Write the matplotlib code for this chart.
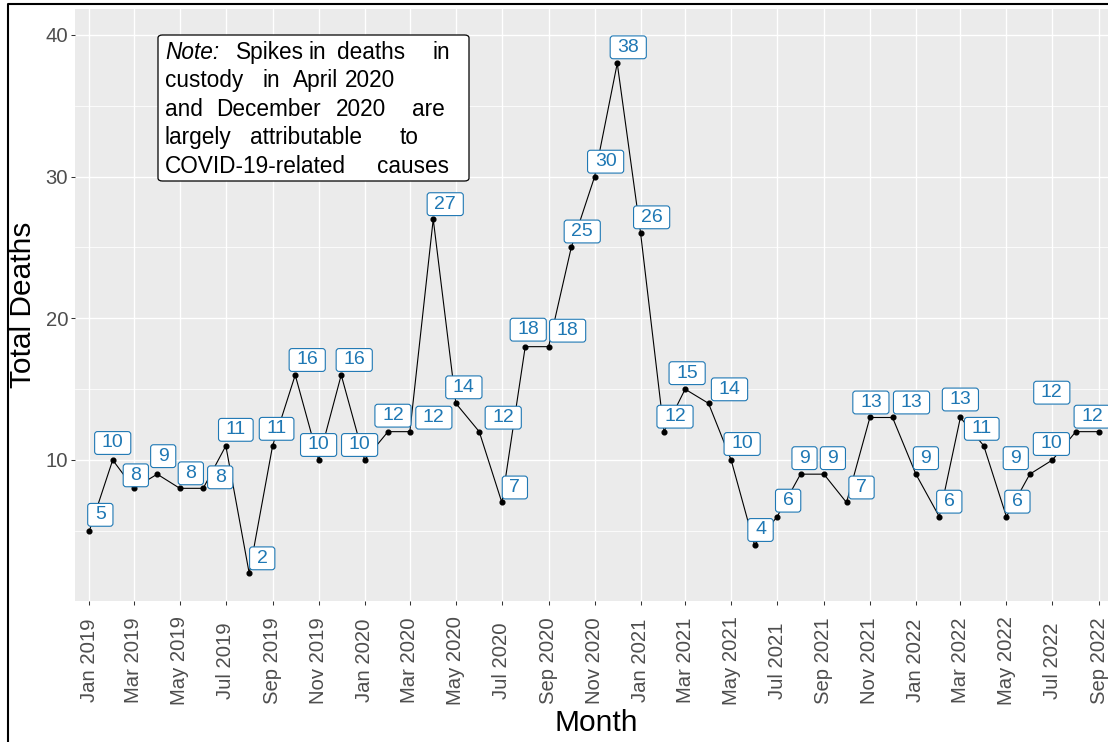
import matplotlib
matplotlib.use('Agg')
import matplotlib.pyplot as plt
import matplotlib.dates as mdates
from matplotlib.patches import FancyBboxPatch, BoxStyle
from matplotlib.lines import Line2D
import pandas as pd

plt.rcParams['font.family'] = ['Liberation Sans', 'DejaVu Sans']

# monthly deaths in custody, Jan 2019 - Sep 2022
months = pd.date_range('2019-01-01', periods=45, freq='MS')
deaths = [5, 10, 8, 9, 8, 8, 11, 2, 11, 16, 10, 16,
          10, 12, 12, 27, 14, 12, 7, 18, 18, 25, 30, 38,
          26, 12, 15, 14, 10, 4, 6, 9, 9, 7, 13, 13,
          9, 6, 13, 11, 6, 9, 10, 12, 12]

# label nudges (pixels, right / up), mimicking the repelled labels
label_offsets = [(11, 16), (0, 17), (2, 13), (6, 18), (11, 15), (17, 11), (10, 16), (13, 15),
                 (4, 17), (12, 15), (0, 15), (13, 15),
                 (-5, 15), (5, 16), (24, 14), (12, 15), (8, 16), (24, 14), (13, 15), (3, 17),
                 (19, 16), (11, 16), (11, 15), (11, 16),
                 (11, 16), (11, 15), (2, 16), (21, 14), (11, 16), (6, 15), (11, 16), (4, 16),
                 (9, 16), (15, 15), (1, 15), (19, 15),
                 (10, 16), (10, 15), (0, 18), (-2, 17), (11, 15), (-14, 16), (-1, 16),
                 (-24, 39), (-7, 15)]

note_lines = [
    [('Note:', 165, 'italic'), ('Spikes', 236, 'normal'), ('in', 309, 'normal'),
     ('deaths', 337, 'normal'), ('in', 433, 'normal')],
    [('custody', 165, 'normal'), ('in', 263, 'normal'), ('April', 293, 'normal'),
     ('2020', 345, 'normal')],
    [('and', 165, 'normal'), ('December', 216, 'normal'), ('2020', 336, 'normal'),
     ('are', 412, 'normal')],
    [('largely', 165, 'normal'), ('attributable', 250, 'normal'), ('to', 400, 'normal')],
    [('COVID-19-related', 165, 'normal'), ('causes', 377, 'normal')],
]

W, H = 1108, 742
BLUE = '#1F78B4'


def fx(x):
    return x / W


def fy(y):
    return 1 - y / H


class WideRound(BoxStyle.Round):
    # round box with extra room left and right, like geom_label
    def __call__(self, x0, y0, width, height, mutation_size):
        ex = 0.22 * mutation_size
        return super().__call__(x0 - ex, y0, width + 2 * ex, height, mutation_size)


fig = plt.figure(figsize=(W / 100, H / 100), dpi=100)
ax = fig.add_axes([fx(75), fy(601), (1115 - 75) / W, (601 - 9) / H])
ax.set_facecolor('#EBEBEB')
for s in ax.spines.values():
    s.set_visible(False)

ax.plot(months, deaths, color='black', lw=0.8, marker='o', ms=3.4, zorder=3)

for d, v, (dx, dy) in zip(months, deaths, label_offsets):
    ax.annotate(str(v), (d, v), xytext=(dx, dy), textcoords='offset pixels',
                ha='center', va='center', fontsize=14, color=BLUE, zorder=5,
                bbox=dict(boxstyle=WideRound(pad=0.15, rounding_size=0.15),
                          fc='white', ec=BLUE, lw=0.8))

ax.set_xlim(months[0] - pd.Timedelta(days=19), months[-1] + pd.Timedelta(days=21))
ax.set_ylim(0.047, 41.835)

ax.set_xticks(months[::2])
ax.xaxis.set_major_formatter(mdates.DateFormatter('%b %Y'))
ax.set_yticks([10, 20, 30, 40])
ax.set_yticks([5, 15, 25, 35], minor=True)

ax.grid(which='major', color='white', lw=1.0)
ax.grid(which='minor', axis='y', color='white', lw=0.55)
ax.set_axisbelow(True)

ax.tick_params(which='major', length=2.9, width=0.75, color='#333333',
               labelcolor='#4D4D4D', labelsize=14.6)
ax.tick_params(which='minor', length=0)
ax.tick_params(axis='y', pad=2)
ax.tick_params(axis='x', pad=40)
plt.setp(ax.get_xticklabels(), rotation=90, va='center', ha='center',
         rotation_mode='anchor')

fig.text(fx(23), fy(305), 'Total Deaths', rotation=90, ha='center', va='center', fontsize=21.5)
fig.text(fx(596), fy(723), 'Month', ha='center', va='center', fontsize=21.5)

# note box
box = FancyBboxPatch((fx(158), fy(181)), fx(469 - 158), (181 - 35) / H,
                     boxstyle='round,pad=0,rounding_size=0.004',
                     transform=fig.transFigure, fc='white', ec='black', lw=0.9, zorder=6)
fig.patches.append(box)
for i, line in enumerate(note_lines):
    base = 59 + i * 28.4
    for word, x, style in line:
        fig.text(fx(x), fy(base), word, ha='left', va='baseline', fontsize=16.3,
                 style=style, zorder=7)

# outer frame (left and top edges visible in the crop)
fig.lines.append(Line2D([fx(7.7), fx(7.7), 1.0], [0, fy(4.3), fy(4.3)],
                        transform=fig.transFigure, color='black', lw=1.5))

fig.savefig('out.png', dpi=100)
